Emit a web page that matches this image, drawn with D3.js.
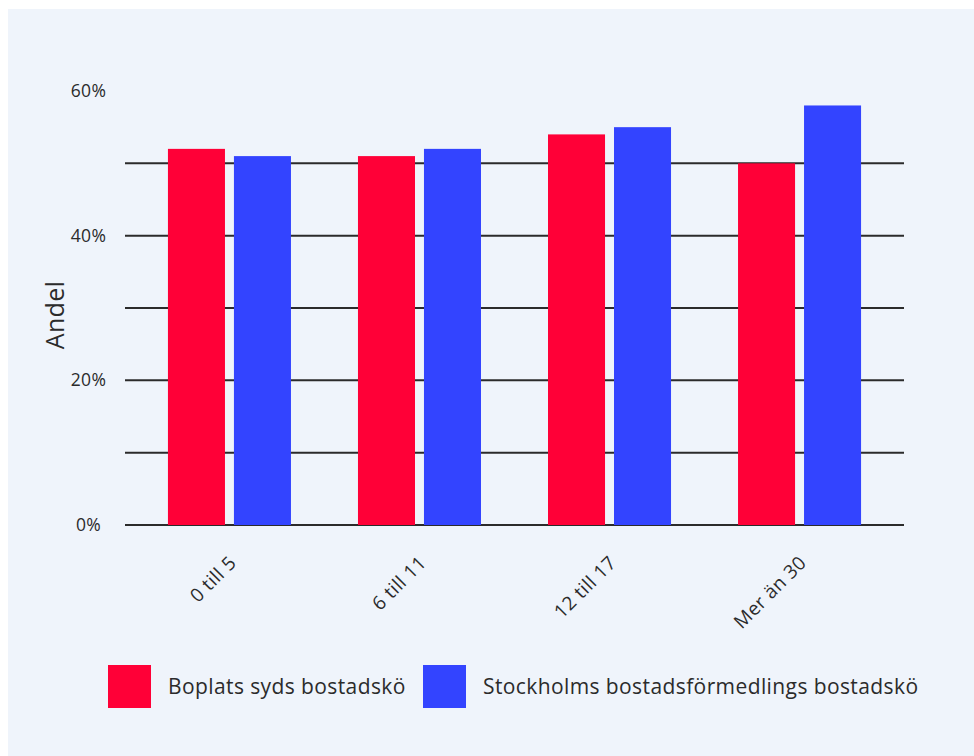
<!DOCTYPE html>
<html>
<head>
<meta charset="utf-8">
<script src="https://cdn.jsdelivr.net/npm/d3@7"></script>
<style>
  body { margin: 0; background: #fff; }
  text { font-family: "Open Sans", Lato, sans-serif; fill: #2b2b2b; }
</style>
</head>
<body>
<div id="chart"></div>
<script>
const categories = ["0 till 5", "6 till 11", "12 till 17", "Mer än 30"];
const seriesNames = ["Boplats syds bostadskö", "Stockholms bostadsförmedlings bostadskö"];
const boplats = [52, 51, 54, 50];
const stockholm = [51, 52, 55, 58];
const yTicks = [0, 10, 20, 30, 40, 50, 60];
const yLabelTicks = [0, 20, 40, 60];
const colors = ["#ff0037", "#3344ff"];

const W = 974, H = 756;
const margin = { top: 91, right: 70, bottom: 231, left: 125 };

const svg = d3.select("#chart").append("svg")
  .attr("width", W)
  .attr("height", H);

svg.append("rect")
  .attr("x", 8).attr("y", 9)
  .attr("width", W - 8).attr("height", H - 9)
  .attr("fill", "#eff4fb");

const x0 = d3.scaleBand()
  .domain(categories)
  .range([margin.left, W - margin.right])
  .paddingInner(0.3526)
  .paddingOuter(0.226);

const x1 = d3.scaleBand()
  .domain(seriesNames)
  .range([0, x0.bandwidth()])
  .paddingInner(0.136);

const y = d3.scaleLinear()
  .domain([0, 60])
  .range([H - margin.bottom, margin.top]);

// grid lines (no line at the top tick)
svg.append("g")
  .selectAll("line")
  .data(yTicks.filter(d => d < 60))
  .join("line")
  .attr("x1", margin.left)
  .attr("x2", W - margin.right)
  .attr("y1", d => y(d))
  .attr("y2", d => y(d))
  .attr("stroke", "#2b2b2b")
  .attr("stroke-width", 2);

// y labels, centred in their column
svg.append("g")
  .selectAll("text")
  .data(yLabelTicks)
  .join("text")
  .attr("x", 88.5)
  .attr("y", d => y(d))
  .attr("dy", "0.35em")
  .attr("text-anchor", "middle")
  .attr("font-size", 17.5)
  .attr("letter-spacing", 0.3)
  .text(d => d + "%");

svg.append("text")
  .attr("transform", `translate(64,315) rotate(-90)`)
  .attr("text-anchor", "middle")
  .attr("font-size", 25)
  .attr("letter-spacing", 0.3)
  .text("Andel");

// bars
const rows = categories.map((c, i) => ({ cat: c, vals: [boplats[i], stockholm[i]] }));

svg.append("g")
  .selectAll("g")
  .data(rows)
  .join("g")
  .attr("transform", d => `translate(${x0(d.cat)},0)`)
  .selectAll("rect")
  .data(d => d.vals.map((v, j) => ({ name: seriesNames[j], v, j })))
  .join("rect")
  .attr("x", d => x1(d.name))
  .attr("width", x1.bandwidth())
  .attr("y", d => y(d.v))
  .attr("height", d => y(0) - y(d.v))
  .attr("fill", d => colors[d.j]);

// x labels
svg.append("g")
  .selectAll("text")
  .data(categories)
  .join("text")
  .attr("transform", d => `translate(${x0(d) + x0.bandwidth() / 2 + 8},${y(0) + 39}) rotate(-45)`)
  .attr("text-anchor", "end")
  .attr("font-size", 19)
  .attr("letter-spacing", 0.4)
  .text(d => d);

// legend
const legend = svg.append("g");
const legX = [108, 423];
seriesNames.forEach((name, i) => {
  legend.append("rect")
    .attr("x", legX[i]).attr("y", 665)
    .attr("width", 43).attr("height", 43)
    .attr("fill", colors[i]);
  legend.append("text")
    .attr("x", legX[i] + 60).attr("y", 687)
    .attr("dy", "0.35em")
    .attr("font-size", 21)
    .attr("letter-spacing", 0.4)
    .text(name);
});
</script>
</body>
</html>
